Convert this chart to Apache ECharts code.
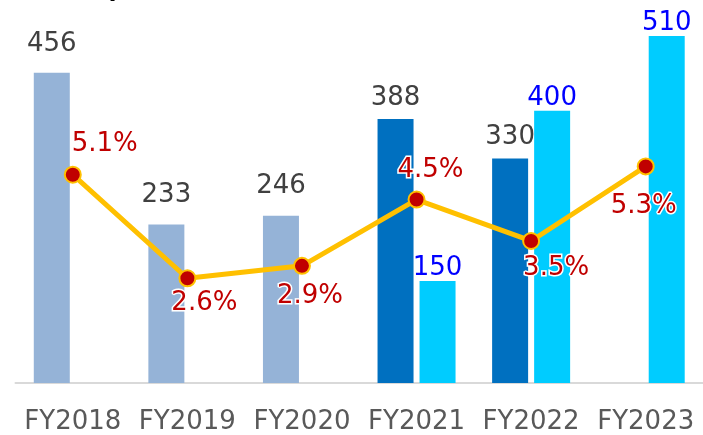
<!DOCTYPE html>
<html>
<head>
<meta charset="utf-8">
<script src="https://cdn.jsdelivr.net/npm/echarts@6/dist/echarts.min.js"></script>
<style>
html,body{margin:0;padding:0;background:#fff;}
#chart{width:703px;height:435px;}
</style>
</head>
<body>
<div id="chart"></div>
<script>
// ---- data ----
const categories = ['FY2018', 'FY2019', 'FY2020', 'FY2021', 'FY2022', 'FY2023'];
const pastValues = [456, 233, 246, null, null, null];
const recentValues = [null, null, null, 388, 330, null];
const planValues = [null, null, null, 150, 400, 510];
const rateValues = [5.1, 2.6, 2.9, 4.5, 3.5, 5.3];
const unitLabel = '(Billion yen, %)';

// ---- label placement (style) ----
const rateLabelOffsets = [[32, -30], [17, 25], [8, 30], [14, -29], [25, 27], [-2, 40]];

const FONT = 'DejaVu Sans';
const chart = echarts.init(document.getElementById('chart'), null, {renderer: 'canvas'});

const toData = arr => arr.map(v => (v === null ? '-' : v));

chart.setOption({
  animation: false,
  backgroundColor: '#ffffff',
  grid: {left: 15.5, top: 2, width: 693, height: 383, containLabel: false},
  graphic: [{
    type: 'text', left: 11, top: -24.5,
    style: {text: unitLabel, fontSize: 26, fontFamily: FONT, fill: '#000000'}
  }],
  xAxis: {
    type: 'category',
    data: categories,
    axisLine: {show: true, lineStyle: {color: '#D9D9D9', width: 2}},
    axisTick: {show: false},
    axisLabel: {color: '#595959', fontSize: 26, fontFamily: FONT, margin: 26, interval: 0}
  },
  yAxis: [
    {type: 'value', min: 0, max: 560, show: false, splitLine: {show: false}},
    {type: 'value', min: 0.072, max: 9.268, show: false, splitLine: {show: false}}
  ],
  series: [
    {
      type: 'bar', name: 'past', stack: 'actual', data: toData(pastValues),
      barWidth: 36, barGap: '16.7%',
      itemStyle: {color: '#95B3D7'},
      label: {show: true, position: 'top', distance: 16, color: '#404040', fontSize: 26, fontFamily: FONT}
    },
    {
      type: 'bar', name: 'recent', stack: 'actual', data: toData(recentValues),
      barWidth: 36, barGap: '16.7%',
      itemStyle: {color: '#0070C0'},
      label: {show: true, position: 'top', distance: 8, color: '#404040', fontSize: 26, fontFamily: FONT}
    },
    {
      type: 'bar', name: 'plan', data: toData(planValues),
      barWidth: 36, barGap: '16.7%',
      itemStyle: {color: '#00CCFF'},
      label: {show: true, position: 'top', distance: 0, color: '#0000FF', fontSize: 26, fontFamily: FONT}
    },
    {
      type: 'line', name: 'rate', yAxisIndex: 1, z: 5,
      data: rateValues.map((v, i) => ({
        value: v,
        label: {offset: rateLabelOffsets[i]}
      })),
      lineStyle: {color: '#FFC000', width: 5},
      symbol: 'circle', symbolSize: 16,
      itemStyle: {color: '#C00000', borderColor: '#FFC000', borderWidth: 2},
      label: {
        show: true, position: 'inside',
        formatter: p => p.value.toFixed(1) + '%',
        color: '#C00000', fontSize: 26, fontFamily: FONT,
        textBorderColor: '#ffffff', textBorderWidth: 3
      }
    }
  ]
});
</script>
</body>
</html>
